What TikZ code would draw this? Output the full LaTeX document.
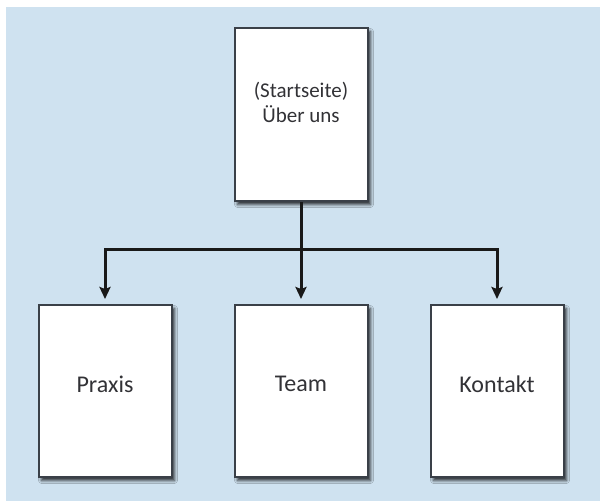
\documentclass[tikz,border=0pt]{standalone}
\usepackage{fontspec}
\setmainfont{Carlito}
\usepackage{tikz}
\usetikzlibrary{calc,positioning,arrows.meta,shadows,shadows.blur}

\definecolor{bgblue}{RGB}{207,226,240}
\definecolor{boxline}{RGB}{58,64,72}
\definecolor{txtgray}{RGB}{50,50,54}

\begin{document}
\begin{tikzpicture}[x=1pt,y=-1pt,node distance=61pt,
    page/.style={rectangle,draw=boxline,line width=2pt,fill=white,
                 minimum width=133pt,minimum height=172pt,inner sep=0pt,
                 blur shadow={shadow xshift=3pt,shadow yshift=-3.5pt,
                              shadow blur radius=3pt,shadow opacity=80}},
    pagetext/.style={text=txtgray,font=\fontsize{24}{25}\selectfont,yshift=7pt},
    link/.style={line width=3pt,draw=black!90},
    linkarrow/.style={link,-{Stealth[length=12pt,width=11pt,inset=2pt]},shorten >=5pt}]

  \useasboundingbox (0,0) rectangle (600,501);
  \fill[bgblue] (6,7) rectangle (600,501);

  % start page and the three pages below it
  \node[page,minimum height=173pt,
        label={[pagetext,align=center,font=\fontsize{21}{25}\selectfont,yshift=5pt]center:(Startseite)\\Über uns}]
        (start) at (301,114.5) {};
  \node[page,below=102pt of start,label={[pagetext]center:Team}] (team) {};
  \node[page,left=of team,label={[pagetext]center:Praxis}] (praxis) {};
  \node[page,right=of team,label={[pagetext]center:Kontakt}] (kontakt) {};

  \coordinate (fork) at (start.south |- 0,249);

  \draw[link] (start) -- (fork);
  \draw[linkarrow] (fork) -| (praxis);
  \draw[linkarrow] (fork) -- (team);
  \draw[linkarrow] (fork) -| (kontakt);
\end{tikzpicture}
\end{document}
